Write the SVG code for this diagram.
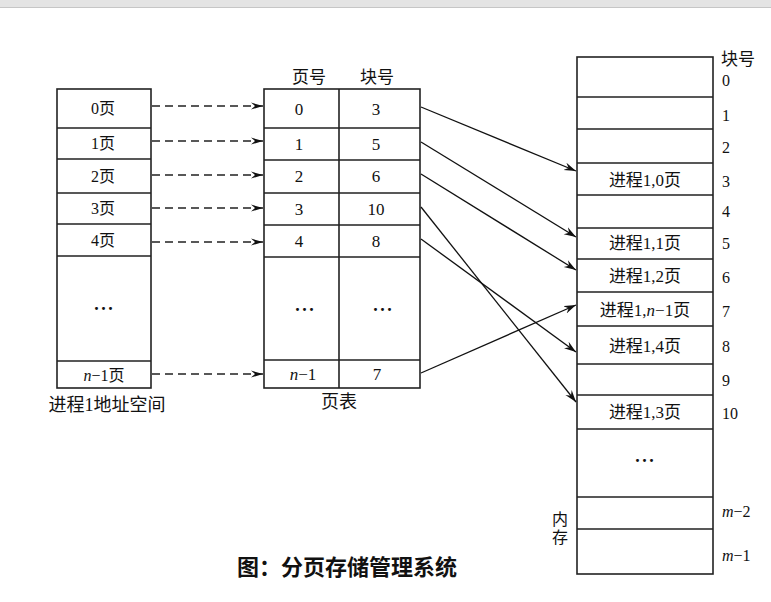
<svg xmlns="http://www.w3.org/2000/svg" width="771" height="602" viewBox="0 0 771 602">
<style>
.box{fill:#fff;stroke:#222;stroke-width:1.6}
.ln{stroke:#222;stroke-width:1.6;fill:none}
.t{font-family:"Liberation Serif","Noto Sans CJK SC",serif;fill:#111;dominant-baseline:central;text-anchor:middle}
.s{text-anchor:start}
.c15{font-size:15px}
.c16{font-size:16px}
.c17{font-size:17px}
.c18{font-size:18px}
.dots{font-size:18px;font-weight:bold;letter-spacing:1px}
.dash{stroke:#222;stroke-width:1.4;stroke-dasharray:8 5;fill:none}
.arr{stroke:#111;stroke-width:1.3;fill:none}
.i{font-style:italic}
</style>
<defs>
<marker id="hd" markerUnits="userSpaceOnUse" markerWidth="13" markerHeight="8" refX="12" refY="4" orient="auto">
<path d="M0,0.5 L12,4 L0,7.5 L4,4 z" fill="#111"/>
</marker>
<marker id="hs" markerUnits="userSpaceOnUse" markerWidth="13" markerHeight="9" refX="12" refY="4.5" orient="auto">
<path d="M0,0.5 L12,4.5 L0,8.5 L4,4.5 z" fill="#111"/>
</marker>
</defs>
<rect x="0" y="0" width="771" height="7" fill="#e4e4e4"/>
<line x1="0" y1="7.5" x2="771" y2="7.5" stroke="#c6c6c6" stroke-width="1"/>
<rect x="0" y="8" width="771" height="594" fill="#fff"/>

<g id="addr-space">
<rect class="box" x="57" y="89" width="94" height="299"/>
<path class="ln" d="M57,128H151M57,159H151M57,193H151M57,224H151M57,256H151M57,361H151"/>
<text class="t c16" x="103" y="108">0页</text>
<text class="t c16" x="103" y="143">1页</text>
<text class="t c16" x="103" y="176">2页</text>
<text class="t c16" x="103" y="208">3页</text>
<text class="t c16" x="103" y="240">4页</text>
<text class="t dots" x="104" y="309">···</text>
<text class="t c16" x="104" y="375"><tspan class="i">n</tspan>−1页</text>
<text class="t c18" x="107" y="405">进程1地址空间</text>
</g>

<g id="page-table">
<rect class="box" x="264" y="89" width="156" height="299"/>
<path class="ln" d="M339,89V388M264,128H420M264,160H420M264,193H420M264,225H420M264,257H420M264,360H420"/>
<text class="t c17" x="309" y="77">页号</text>
<text class="t c17" x="377" y="77">块号</text>
<text class="t c17" x="299" y="109">0</text>
<text class="t c17" x="376" y="109">3</text>
<text class="t c17" x="299" y="144">1</text>
<text class="t c17" x="376" y="144">5</text>
<text class="t c17" x="299" y="176">2</text>
<text class="t c17" x="376" y="176">6</text>
<text class="t c17" x="299" y="209">3</text>
<text class="t c17" x="376" y="209">10</text>
<text class="t c17" x="299" y="241">4</text>
<text class="t c17" x="376" y="241">8</text>
<text class="t dots" x="305" y="310">···</text>
<text class="t dots" x="383" y="310">···</text>
<text class="t c17" x="303" y="374"><tspan class="i">n</tspan>−1</text>
<text class="t c17" x="377" y="374">7</text>
<text class="t c18" x="339" y="402">页表</text>
</g>

<g id="memory">
<rect class="box" x="577" y="57" width="136" height="517"/>
<path class="ln" d="M577,97H713M577,129H713M577,163H713M577,195H713M577,228H713M577,259H713M577,292H713M577,326H713M577,364H713M577,395H713M577,429H713M577,497H713M577,529H713"/>
<text class="t c17" x="645" y="180">进程1,0页</text>
<text class="t c17" x="645" y="243">进程1,1页</text>
<text class="t c17" x="645" y="276">进程1,2页</text>
<text class="t c17" x="645" y="310">进程1,<tspan class="i">n</tspan>−1页</text>
<text class="t c17" x="645" y="346">进程1,4页</text>
<text class="t c17" x="645" y="412">进程1,3页</text>
<text class="t dots" x="645" y="461">···</text>
<text class="t c17 s" x="721" y="59">块号</text>
<text class="t c16 s" x="722" y="80">0</text>
<text class="t c16 s" x="722" y="115">1</text>
<text class="t c16 s" x="722" y="147">2</text>
<text class="t c16 s" x="722" y="181">3</text>
<text class="t c16 s" x="722" y="211">4</text>
<text class="t c16 s" x="722" y="243">5</text>
<text class="t c16 s" x="722" y="277">6</text>
<text class="t c16 s" x="722" y="311">7</text>
<text class="t c16 s" x="722" y="346">8</text>
<text class="t c16 s" x="722" y="380">9</text>
<text class="t c16 s" x="722" y="413">10</text>
<text class="t c16 s" x="722" y="511"><tspan class="i">m</tspan>−2</text>
<text class="t c16 s" x="722" y="555"><tspan class="i">m</tspan>−1</text>
<text class="t c16" x="560" y="519">内</text>
<text class="t c16" x="560" y="537">存</text>
</g>

<g id="connectors">
<line class="dash" x1="152" y1="106" x2="263" y2="106" marker-end="url(#hd)"/>
<line class="dash" x1="152" y1="141" x2="263" y2="141" marker-end="url(#hd)"/>
<line class="dash" x1="152" y1="175" x2="263" y2="175" marker-end="url(#hd)"/>
<line class="dash" x1="152" y1="208" x2="263" y2="208" marker-end="url(#hd)"/>
<line class="dash" x1="152" y1="242" x2="263" y2="242" marker-end="url(#hd)"/>
<line class="dash" x1="152" y1="374" x2="263" y2="374" marker-end="url(#hd)"/>
<line class="arr" x1="421" y1="107" x2="576" y2="171" marker-end="url(#hs)"/>
<line class="arr" x1="421" y1="142" x2="576" y2="237" marker-end="url(#hs)"/>
<line class="arr" x1="421" y1="174" x2="576" y2="270" marker-end="url(#hs)"/>
<line class="arr" x1="421" y1="207" x2="576" y2="402" marker-end="url(#hs)"/>
<line class="arr" x1="421" y1="239" x2="576" y2="352" marker-end="url(#hs)"/>
<line class="arr" x1="421" y1="373" x2="576" y2="305" marker-end="url(#hs)"/>
</g>

<text x="347" y="565" font-family="'Noto Sans CJK SC',sans-serif" font-size="22" font-weight="bold" fill="#111" text-anchor="middle" dominant-baseline="central">图：分页存储管理系统</text>
</svg>
